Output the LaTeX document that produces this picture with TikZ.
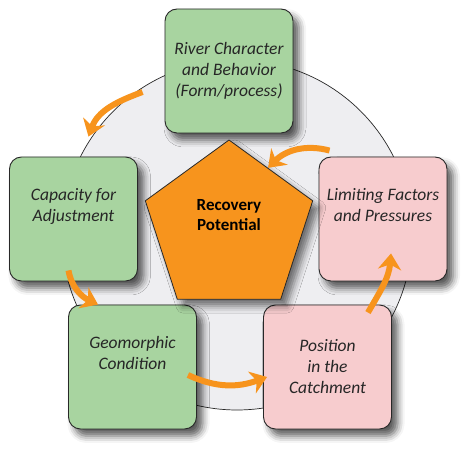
\documentclass[tikz,border=0pt]{standalone}
\usepackage{fontspec}
\setmainfont{Carlito}
\usetikzlibrary{shapes.geometric,arrows.meta,shadows.blur,positioning}

\definecolor{boxgreen}{RGB}{168,212,160}
\definecolor{boxpink}{RGB}{247,204,206}
\definecolor{potorange}{RGB}{247,148,29}
\definecolor{ringgray}{RGB}{238,238,241}
\definecolor{edgegray}{RGB}{40,40,40}

\tikzset{
	stagebox/.style={draw=edgegray, line width=0.9pt, rounded corners=12pt,
		minimum width=128pt, minimum height=124pt, align=center,
		font=\fontsize{17.5}{21}\selectfont\itshape, text=black!85,
		blur shadow={shadow xshift=6pt, shadow yshift=-7pt, shadow blur radius=7pt, shadow opacity=65}},
	naturebox/.style={stagebox, fill=boxgreen},
	pressurebox/.style={stagebox, fill=boxpink},
	sweep/.style={draw=potorange, line width=6pt, -{Stealth[length=16pt, width=23pt, inset=5pt]}}
}

\begin{document}
\begin{tikzpicture}[x=1pt, y=1pt]
			\useasboundingbox (0,0) rectangle (474,455);
			
			% Серый круг на фоне
			\node[circle, minimum size=350pt, fill=ringgray, draw=edgegray, line width=0.7pt] (ring) at (237,220) {};
			
			% Блоки цикла
			\node[naturebox] (river) at (229,384) {River Character\\and Behavior\\(Form/process)};
			\node[naturebox] (capacity) at (73.5,236) {Capacity for\\Adjustment\\\strut};
			\node[pressurebox] (limiting) at (383,236) {Limiting Factors\\and Pressures\\\strut};
			\node[naturebox] (geomorphic) at (132.5,88) {Geomorphic\\Condition\\\strut};
			\node[pressurebox] (position) at (327.5,88) {Position\\in the\\Catchment};
			
			% Пятиугольник в центре
			\node[regular polygon, regular polygon sides=5, minimum size=176pt, inner sep=0pt,
				fill=potorange, draw=edgegray, line width=0.8pt, align=center,
				font=\fontsize{17}{20}\selectfont\bfseries,
				blur shadow={shadow xshift=6pt, shadow yshift=-7pt, shadow blur radius=7pt, shadow opacity=55}]
				(potential) at (229,227) {Recovery\\Potential\\\strut};
			
			% Изогнутые стрелки
			\draw[sweep] ([shift={(-22,-21)}]river.west) to[out=200, in=70] ([shift={(15,20)}]capacity.north);
			\draw[sweep] ([shift={(-5,11)}]capacity.south) to[out=-80, in=155] ([shift={(30,0)}]geomorphic.north west);
			\draw[sweep] ([shift={(-9,-8)}]geomorphic.east) to[out=-25, in=200] ([shift={(4,-10)}]position.west);
			\draw[sweep] ([shift={(-24,-8)}]position.north east) to[out=60, in=-95] ([shift={(8,28)}]limiting.south);
			\draw[sweep] ([shift={(11,6)}]limiting.north west) to[out=165, in=45] (potential.57);
		\end{tikzpicture}
\end{document}
